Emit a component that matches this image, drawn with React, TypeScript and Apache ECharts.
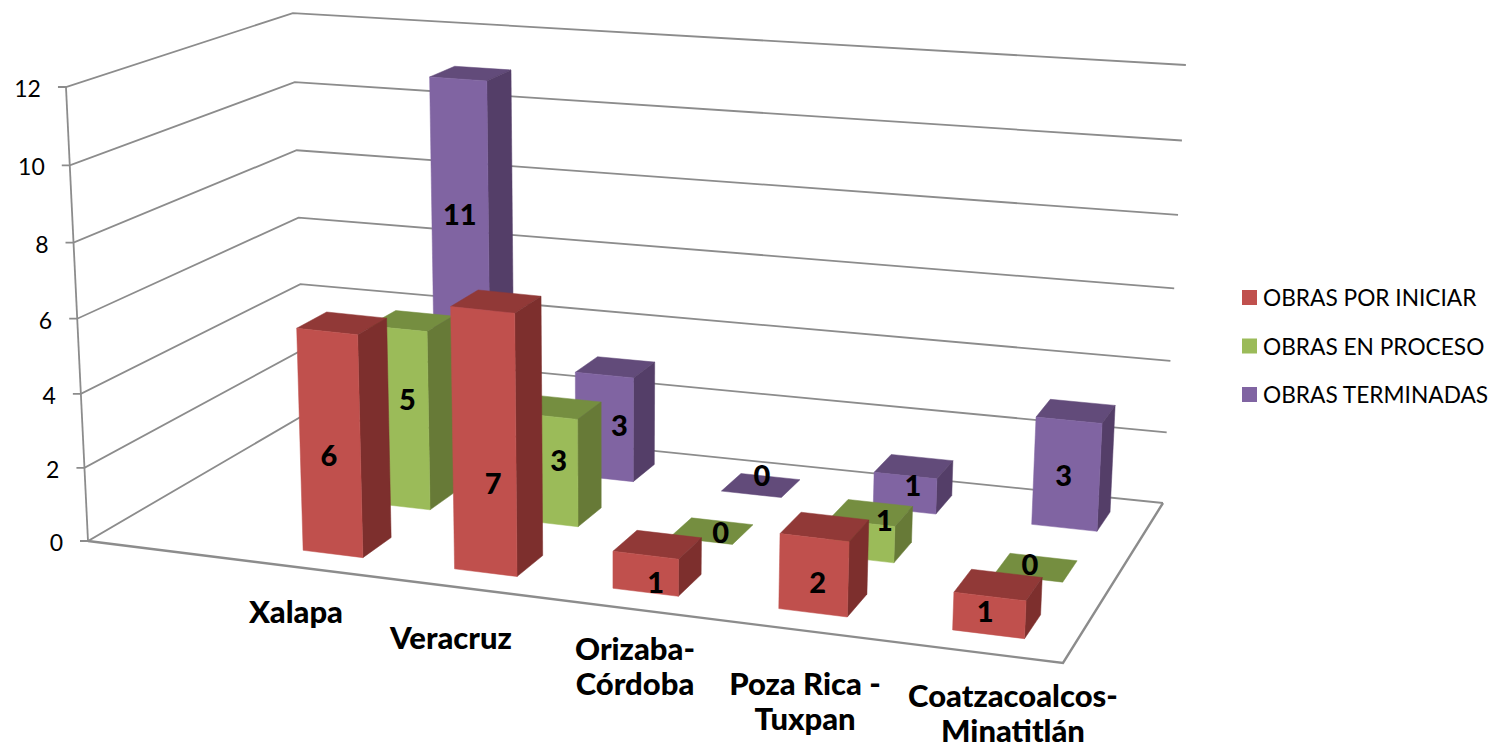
import React, { useEffect, useRef } from "react";
import * as echarts from "echarts";

const categories = ["Xalapa", "Veracruz", "Orizaba-\nCórdoba", "Poza Rica -\nTuxpan", "Coatzacoalcos-\nMinatitlán"];
const seriesNames = ["OBRAS POR INICIAR", "OBRAS EN PROCESO", "OBRAS TERMINADAS"];
const obrasPorIniciar = [6, 7, 1, 2, 1];
const obrasEnProceso = [5, 3, 0, 1, 0];
const obrasTerminadas = [11, 3, 0, 1, 3];
const valueTicks = [0, 2, 4, 6, 8, 10, 12];

// ---- layout of the perspective box
type P = [number, number];
const FLOOR: P[] = [[88, 541], [1063, 663], [1163, 503], [304, 415]];
const AXIS_MAX = 12;
// camera terms for the vertical direction
const LIFT_X = -24.7;
const LIFT_W = -0.0405;
const LIFT_Y_CORNERS = [-457.5, -425, -449.5, -462.8];
const SLOTS = 6; // first slot of the category axis is empty
const SLOT_SHIFT = 0.0045;
const GAP_RATIO = 2.5;
const DEPTH_RATIO = 2.45;
const ROWS = 3;
const COLORS = [
  { front: "#C0504D", top: "#913937", side: "#7D2F2D" },
  { front: "#9BBB59", top: "#758E40", side: "#677A37" },
  { front: "#8064A2", top: "#624B7A", side: "#543E68" },
];
const GRID = "#8C8C8C";
const FONT = "Lato, Carlito, 'Noto Sans', sans-serif";
const CAT_LABEL_POS: P[] = [[296, 611], [451, 637], [635, 665], [805, 700], [1013, 712]];
const LABEL_NUDGE: P[][] = [
  [[-1, 11], [9, 40], [10, 8], [4, 6], [-4, -5]],
  [[8, -20], [11, -11], [9, 1], [23, -22], [-6, -4]],
  [[-1, -61], [15, -3], [1, -11], [8, -9], [-3, 0]],
];

function homogeneous(q: P[]) {
  const [[x0, y0], [x1, y1], [x2, y2], [x3, y3]] = q;
  const sx = x0 - x1 + x2 - x3, sy = y0 - y1 + y2 - y3;
  const dx1 = x1 - x2, dy1 = y1 - y2, dx2 = x3 - x2, dy2 = y3 - y2;
  const det = dx1 * dy2 - dx2 * dy1;
  const g = (sx * dy2 - dx2 * sy) / det;
  const h = (dx1 * sy - sx * dy1) / det;
  const a = x1 - x0 + g * x1, b = x3 - x0 + h * x3;
  const d = y1 - y0 + g * y1, e = y3 - y0 + h * y3;
  return (u: number, v: number) => [a * u + b * v + x0, d * u + e * v + y0, g * u + h * v + 1];
}
const floorAt = homogeneous(FLOOR);

// value scale (0..AXIS_MAX) -> screen, for a floor position (u, v)
function project(u: number, v: number, value: number): P {
  const t = echarts.number.linearMap(value, [0, AXIS_MAX], [0, 1], true);
  const [X, Y, W] = floorAt(u, v);
  const [c0, c1, c2, c3] = LIFT_Y_CORNERS;
  const liftY = c0 * (1 - u) * (1 - v) + c1 * u * (1 - v) + c2 * u * v + c3 * (1 - u) * v;
  const w = W + LIFT_W * t;
  return [(X + LIFT_X * t) / w, (Y + liftY * t) / w];
}

function barSeries(row: number, values: number[]) {
  return {
    type: "custom",
    name: seriesNames[row],
    coordinateSystem: "none",
    z: 10 - row,
    silent: true,
    itemStyle: { color: COLORS[row].front },
    data: values.map((v, i) => [i, v]),
    renderItem: (_p: any, api: any) => {
      const i = api.value(0), val = api.value(1);
      const uc = (i + 1.5) / SLOTS + SLOT_SHIFT, vc = (row + 0.5) / ROWS;
      const du = 1 / SLOTS / GAP_RATIO / 2, dv = 1 / ROWS / DEPTH_RATIO / 2;
      const u0 = uc - du, u1 = uc + du, v0 = vc - dv, v1 = vc + dv;
      const poly = (points: P[], fill: string) => ({
        type: "polygon",
        shape: { points },
        style: { fill, stroke: fill, lineWidth: 0.5 },
      });
      const c = COLORS[row];
      const children: any[] = [];
      children.push(poly([project(u0, v0, val), project(u1, v0, val), project(u1, v1, val), project(u0, v1, val)], c.top));
      if (val > 0) {
        children.push(poly([project(u1, v0, 0), project(u1, v1, 0), project(u1, v1, val), project(u1, v0, val)], c.side));
        children.push(poly([project(u0, v0, 0), project(u1, v0, 0), project(u1, v0, val), project(u0, v0, val)], c.front));
      }
      const anchor = val > 0 ? project(uc, v0, val / 2) : project(uc, vc, 0);
      const nudge = LABEL_NUDGE[row][i];
      children.push({
        type: "text",
        style: {
          text: String(val), x: anchor[0] + nudge[0], y: anchor[1] + nudge[1],
          fill: "#000", fontSize: 29, fontWeight: 900, fontFamily: FONT, align: "center", verticalAlign: "middle",
        },
      });
      return { type: "group", children };
    },
  };
}

const wallSeries = {
  type: "custom",
  name: "grid",
  coordinateSystem: "none",
  z: 1,
  silent: true,
  data: valueTicks.map((v) => [v]),
  renderItem: (_p: any, api: any) => {
    const val = api.value(0);
    const a = project(0, 0, val), d = project(0, 1, val), c = project(1, 1, val);
    const line = { stroke: GRID, lineWidth: 1.8, fill: "none" };
    return {
      type: "group",
      children: [
        { type: "polyline", shape: { points: [[a[0] - 8, a[1]], a, d, c] }, style: line },
        {
          type: "text",
          style: {
            text: String(val), x: a[0] - 25, y: a[1] + 1, fill: "#000", fontSize: 23, fontFamily: FONT,
            align: "right", verticalAlign: "middle",
          },
        },
      ],
    };
  },
};

const frameSeries = {
  type: "custom",
  name: "frame",
  coordinateSystem: "none",
  z: 1,
  silent: true,
  data: [[0]],
  renderItem: () => ({
    type: "group",
    children: [
      {
        type: "polyline",
        shape: { points: [project(0, 0, AXIS_MAX), project(0, 0, 0)] },
        style: { stroke: GRID, lineWidth: 1.8, fill: "none" },
      },
      {
        type: "polyline",
        shape: { points: [project(0, 0, 0), project(1, 0, 0), project(1, 1, 0)] },
        style: { stroke: GRID, lineWidth: 2.4, fill: "none" },
      },
    ],
  }),
};

const categorySeries = {
  type: "custom",
  name: "categories",
  coordinateSystem: "none",
  z: 20,
  silent: true,
  data: categories.map((_, i) => [i]),
  renderItem: (_p: any, api: any) => {
    const i = api.value(0);
    return {
      type: "text",
      style: {
        text: categories[i], x: CAT_LABEL_POS[i][0], y: CAT_LABEL_POS[i][1], fill: "#000",
        fontSize: 31, fontWeight: 900, fontFamily: FONT, lineHeight: 35, align: "center", verticalAlign: "middle",
      },
    };
  },
};

export default function App() {
  const ref = useRef<HTMLDivElement>(null);
  useEffect(() => {
    const chart = echarts.init(ref.current!, undefined, { renderer: "svg" });
    chart.setOption({
      animation: false,
      backgroundColor: "#fff",
      legend: {
        data: seriesNames,
        orient: "vertical",
        left: 1242,
        top: 286,
        padding: 0,
        icon: "rect",
        itemWidth: 15,
        itemHeight: 15,
        itemGap: 25.5,
        selectedMode: false,
        textStyle: { fontFamily: FONT, fontSize: 22.7, color: "#000", padding: [0, 0, 0, 1] },
      },
      series: [
        wallSeries,
        frameSeries,
        barSeries(2, obrasTerminadas),
        barSeries(1, obrasEnProceso),
        barSeries(0, obrasPorIniciar),
        categorySeries,
      ],
    });
    return () => chart.dispose();
  }, []);
  return <div ref={ref} style={{ position: "fixed", left: 0, top: 0, width: 1495, height: 748 }} />;
}
